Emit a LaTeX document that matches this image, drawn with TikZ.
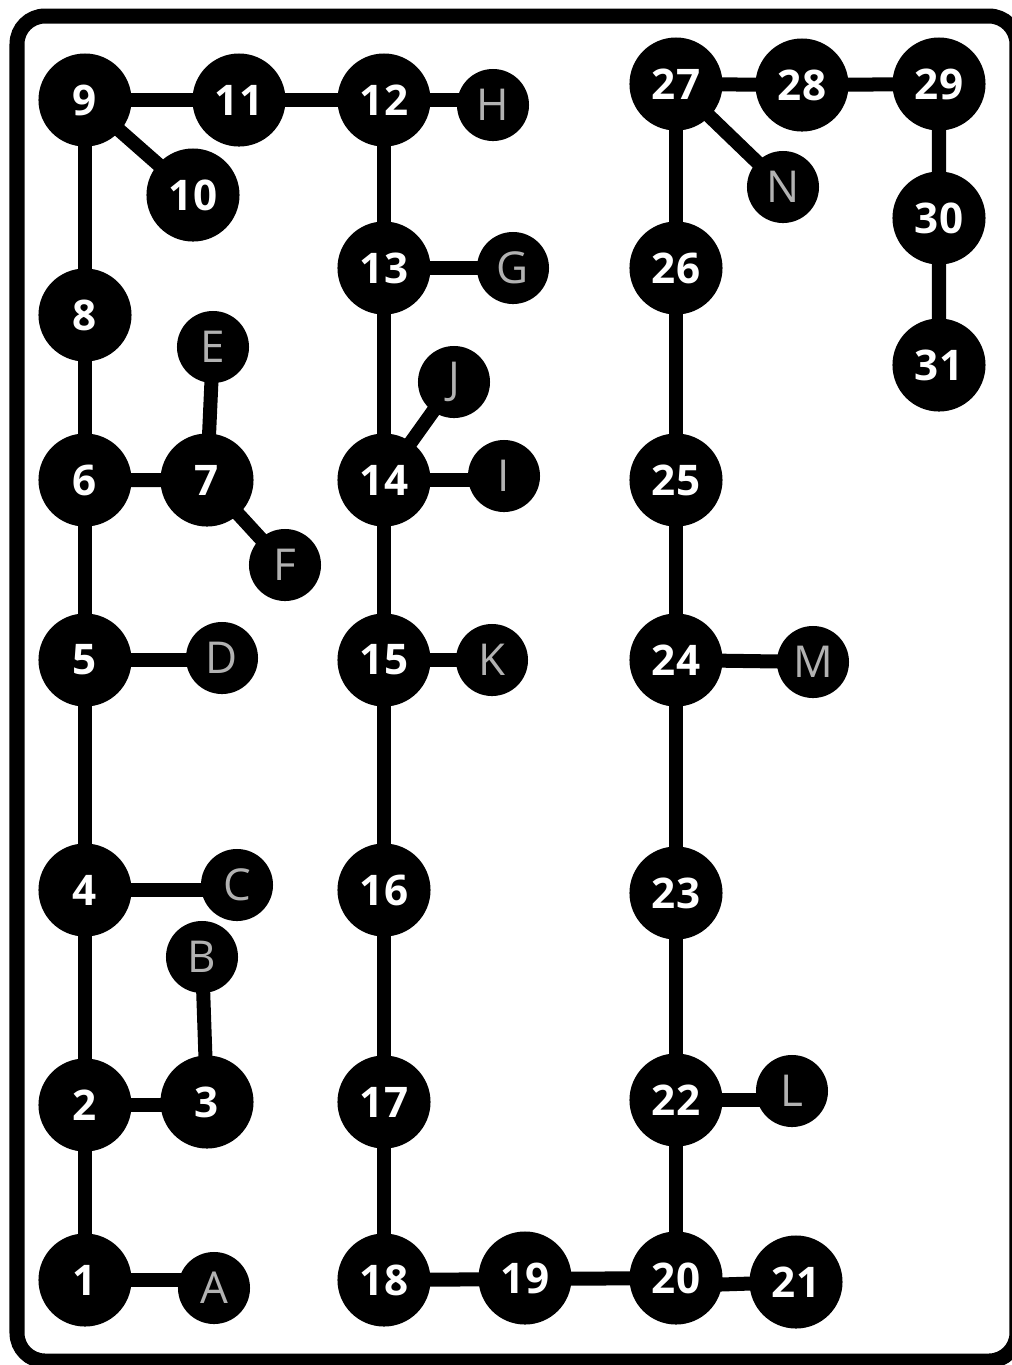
\documentclass[tikz,border=0pt]{standalone}
\usepackage{fontspec}
\setsansfont{Open Sans}
\usetikzlibrary{backgrounds}
\tikzset{
  num/.style={circle, fill=black, minimum size=0.93cm, inner sep=0pt,
    text=white, font=\sffamily\bfseries\fontsize{12}{12}\selectfont},
  letter/.style={circle, fill=black, minimum size=0.72cm, inner sep=0pt,
    text=gray!60, font=\sffamily\fontsize{12.5}{12.5}\selectfont},
  link/.style={line width=0.14cm},
}
\begin{document}
\begin{tikzpicture}[x=0.01cm, y=-0.01cm]
    \useasboundingbox (0,0) rectangle (1012,1365);
    % frame
    \draw[line width=0.15cm, rounded corners=0.28cm] (17,16) rectangle (1017,1361);
    % left branch
    \node[num] (n9) at (85,100) {9};
    \node[num] (n10) at (193,195) {10};
    \node[num] (n11) at (239,100) {11};
    \node[num] (n8) at (85,315) {8};
    \node[num] (n6) at (85,480) {6};
    \node[num] (n7) at (207,480) {7};
    \node[num] (n5) at (85,660) {5};
    \node[num] (n4) at (85,890) {4};
    \node[num] (n2) at (85,1105) {2};
    \node[num] (n3) at (207,1102) {3};
    \node[num] (n1) at (85,1280) {1};
    \node[letter] (E) at (213,347) {E};
    \node[letter] (F) at (285,565) {F};
    \node[letter] (D) at (222,658) {D};
    \node[letter] (C) at (237,885) {C};
    \node[letter] (B) at (202,957) {B};
    \node[letter] (A) at (214,1288) {A};
    % middle branch
    \node[num] (n12) at (384,100) {12};
    \node[num] (n13) at (384,268) {13};
    \node[num] (n14) at (384,480) {14};
    \node[num] (n15) at (384,660) {15};
    \node[num] (n16) at (384,890) {16};
    \node[num] (n17) at (384,1102) {17};
    \node[num] (n18) at (384,1280) {18};
    \node[num] (n19) at (525,1278) {19};
    \node[letter] (H) at (493,105) {H};
    \node[letter] (G) at (513,268) {G};
    \node[letter] (J) at (454,382) {J};
    \node[letter] (I) at (504,476) {I};
    \node[letter] (K) at (492,660) {K};
    % right branch
    \node[num] (n20) at (676,1278) {20};
    \node[num] (n21) at (796,1282) {21};
    \node[num] (n22) at (676,1100) {22};
    \node[num] (n23) at (676,893) {23};
    \node[num] (n24) at (676,660) {24};
    \node[num] (n25) at (676,480) {25};
    \node[num] (n26) at (676,268) {26};
    \node[num] (n27) at (676,84) {27};
    \node[num] (n28) at (802,85) {28};
    \node[num] (n29) at (939,84) {29};
    \node[num] (n30) at (939,218) {30};
    \node[num] (n31) at (939,365) {31};
    \node[letter] (L) at (792,1091) {L};
    \node[letter] (M) at (813,662) {M};
    \node[letter] (N) at (783,187) {N};
    % links, behind the nodes
    \begin{scope}[on background layer]
    \draw[link] (n9.center) -- (n11.center) -- (n12.center) -- (n12.center -| H.center);
    \draw[link] (n9.center) -- (n10.center);
    \draw[link] (n9.center) -- (n1.center);
    \draw[link] (n1.center) -- (n1.center -| A.center);
    \draw[link] (n6.center) -- (n7.center) -- (E.center);
    \draw[link] (n7.center) -- (F.center);
    \draw[link] (n5.center) -- (n5.center -| D.center);
    \draw[link] (n4.center) -- (n4.center -| C.center);
    \draw[link] (n2.center) -- (n2.center -| n3.center);
    \draw[link] (n3.center) -- (B.center);
    \draw[link] (n12.center) -- (n18.center);
    \draw[link] (n13.center) -- (G.center);
    \draw[link] (n14.center) -- (J.center);
    \draw[link] (n14.center) -- (n14.center -| I.center);
    \draw[link] (n15.center) -- (K.center);
    \draw[link] (n18.center) -- (n20.center);
    \draw[link] (n20.center) ++(0,8) -- (n21.center);
    \draw[link] (n20.center) -- (n27.center);
    \draw[link] (n22.center) -- (n22.center -| L.center);
    \draw[link] (n24.center) -- (M.center);
    \draw[link] (n27.center) -- (N.center);
    \draw[link] (n27.center) -- (n28.center) -- (n29.center) -- (n31.center);
    \end{scope}
\end{tikzpicture}
\end{document}
